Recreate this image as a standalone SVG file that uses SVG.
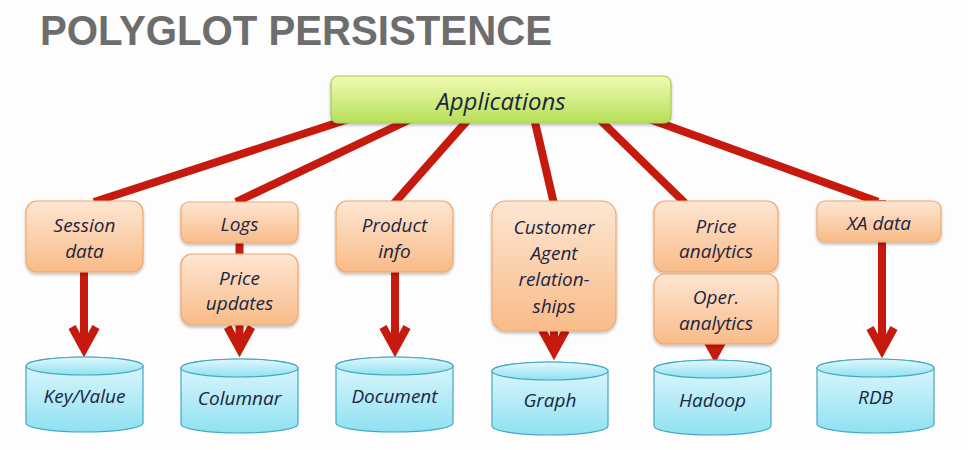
<svg xmlns="http://www.w3.org/2000/svg" width="968" height="450" viewBox="0 0 968 450">
<defs>
<linearGradient id="gOr" x1="0" y1="0" x2="0" y2="1"><stop offset="0" stop-color="#fde6d2"/><stop offset="1" stop-color="#f9bb88"/></linearGradient>
<linearGradient id="gGr" x1="0" y1="0" x2="0" y2="1"><stop offset="0" stop-color="#f1fbb4"/><stop offset="1" stop-color="#b6df58"/></linearGradient>
<linearGradient id="gCy" x1="0" y1="0" x2="0" y2="1"><stop offset="0" stop-color="#e2f8fc"/><stop offset="1" stop-color="#8fe1f2"/></linearGradient>
<filter id="sh" x="-10%" y="-10%" width="120%" height="130%"><feDropShadow dx="0" dy="2" stdDeviation="1.5" flood-color="#000" flood-opacity="0.25"/></filter>
<marker id="chev" markerUnits="userSpaceOnUse" markerWidth="40" markerHeight="40" refX="0" refY="0" orient="auto" style="overflow:visible">
<path d="M-22,-12 L0,0 L-22,12" fill="none" stroke="#c61a0e" stroke-width="8" stroke-linejoin="miter"/>
</marker>
</defs>
<style>
.t{font-family:"Open Sans","DejaVu Sans",sans-serif;font-style:italic;fill:#1c2541;text-anchor:middle}
.b{font-size:19px}
.box{fill:url(#gOr);stroke:#f0a86e;stroke-width:1.2;filter:url(#sh)}
.cyl{fill:url(#gCy);stroke:#45a7c2;stroke-width:1.2}
.ln{stroke:#c61a0e;stroke-width:8;fill:none}
.ar{stroke:#c61a0e;stroke-width:8;fill:none;marker-end:url(#chev)}
</style>
<rect width="968" height="450" fill="#fdfdfd"/>
<text x="40" y="45" font-family="Liberation Sans,Arial,sans-serif" font-weight="bold" font-size="42" fill="#6d6d6d" textLength="512" lengthAdjust="spacingAndGlyphs">POLYGLOT PERSISTENCE</text>
<g id="connectors">
<line class="ln" x1="352" y1="118" x2="94" y2="202"/>
<line class="ln" x1="411" y1="119" x2="236" y2="202"/>
<line class="ln" x1="469" y1="118.5" x2="394" y2="203.5"/>
<line class="ln" x1="534" y1="118" x2="554" y2="204"/>
<line class="ln" x1="598" y1="118" x2="685" y2="203"/>
<line class="ln" x1="647" y1="118.3" x2="878" y2="201.8"/>
<line class="ln" x1="239.5" y1="240" x2="239.5" y2="258"/>
<line class="ar" x1="84" y1="270" x2="84" y2="349"/>
<line class="ar" x1="239.5" y1="318" x2="239.5" y2="349"/>
<line class="ar" x1="395" y1="270" x2="395" y2="349"/>
<line class="ar" x1="554" y1="322" x2="554" y2="352"/>
<line class="ar" x1="715" y1="338" x2="715" y2="355"/>
<line class="ar" x1="882" y1="200" x2="882" y2="350"/>
</g>
<g id="applications">
<rect x="331" y="76" width="340" height="47" rx="7" fill="url(#gGr)" stroke="#a6cc55" stroke-width="1.2" filter="url(#sh)"/>
<text class="t" x="501" y="110" font-size="24">Applications</text>
</g>
<g id="session-data">
<rect class="box" x="26" y="201" width="117" height="71" rx="11"/>
<text class="t b" x="84.5" y="232">Session</text>
<text class="t b" x="84.5" y="258">data</text>
</g>
<g id="logs">
<rect class="box" x="181" y="202" width="117" height="41" rx="8"/>
<text class="t b" x="239.5" y="231">Logs</text>
</g>
<g id="price-updates">
<rect class="box" x="181" y="254" width="117" height="71" rx="11"/>
<text class="t b" x="239.5" y="285">Price</text>
<text class="t b" x="239.5" y="310">updates</text>
</g>
<g id="product-info">
<rect class="box" x="336" y="201" width="117" height="71" rx="11"/>
<text class="t b" x="394.5" y="232">Product</text>
<text class="t b" x="394.5" y="258">info</text>
</g>
<g id="customer-agent">
<rect class="box" x="492" y="201" width="124" height="130" rx="14"/>
<text class="t b" x="554" y="234">Customer</text>
<text class="t b" x="554" y="260">Agent</text>
<text class="t b" x="554" y="286">relation-</text>
<text class="t b" x="554" y="313">ships</text>
</g>
<g id="price-analytics">
<rect class="box" x="654" y="201" width="124" height="71" rx="11"/>
<text class="t b" x="716" y="233">Price</text>
<text class="t b" x="716" y="258">analytics</text>
</g>
<g id="oper-analytics">
<rect class="box" x="654" y="274" width="124" height="70" rx="11"/>
<text class="t b" x="716" y="304">Oper.</text>
<text class="t b" x="716" y="330">analytics</text>
</g>
<g id="xa-data">
<rect class="box" x="817" y="201" width="124" height="41" rx="8"/>
<text class="t b" x="879" y="230">XA data</text>
</g>
<g id="key-value">
<path class="cyl" d="M26,366 A58.5,9 0 0,1 143,366 V423 A58.5,9 0 0,1 26,423 Z"/>
<ellipse class="cyl" cx="84.5" cy="366" rx="58.5" ry="9"/>
<text class="t b" x="84.5" y="403">Key/Value</text>
</g>
<g id="columnar">
<path class="cyl" d="M181,368 A58.5,9 0 0,1 298,368 V424 A58.5,9 0 0,1 181,424 Z"/>
<ellipse class="cyl" cx="239.5" cy="368" rx="58.5" ry="9"/>
<text class="t b" x="239.5" y="405">Columnar</text>
</g>
<g id="document">
<path class="cyl" d="M336,366 A58.5,9 0 0,1 453,366 V423 A58.5,9 0 0,1 336,423 Z"/>
<ellipse class="cyl" cx="394.5" cy="366" rx="58.5" ry="9"/>
<text class="t b" x="394.5" y="403">Document</text>
</g>
<g id="graph">
<path class="cyl" d="M492,371 A58,9 0 0,1 608,371 V426 A58,9 0 0,1 492,426 Z"/>
<ellipse class="cyl" cx="550" cy="371" rx="58" ry="9"/>
<text class="t b" x="550" y="407">Graph</text>
</g>
<g id="hadoop">
<path class="cyl" d="M654,369 A58.5,9 0 0,1 771,369 V426 A58.5,9 0 0,1 654,426 Z"/>
<ellipse class="cyl" cx="712.5" cy="369" rx="58.5" ry="9"/>
<text class="t b" x="712.5" y="407">Hadoop</text>
</g>
<g id="rdb">
<path class="cyl" d="M817,368 A58.5,9 0 0,1 934,368 V424 A58.5,9 0 0,1 817,424 Z"/>
<ellipse class="cyl" cx="875.5" cy="368" rx="58.5" ry="9"/>
<text class="t b" x="875.5" y="404">RDB</text>
</g>
</svg>
